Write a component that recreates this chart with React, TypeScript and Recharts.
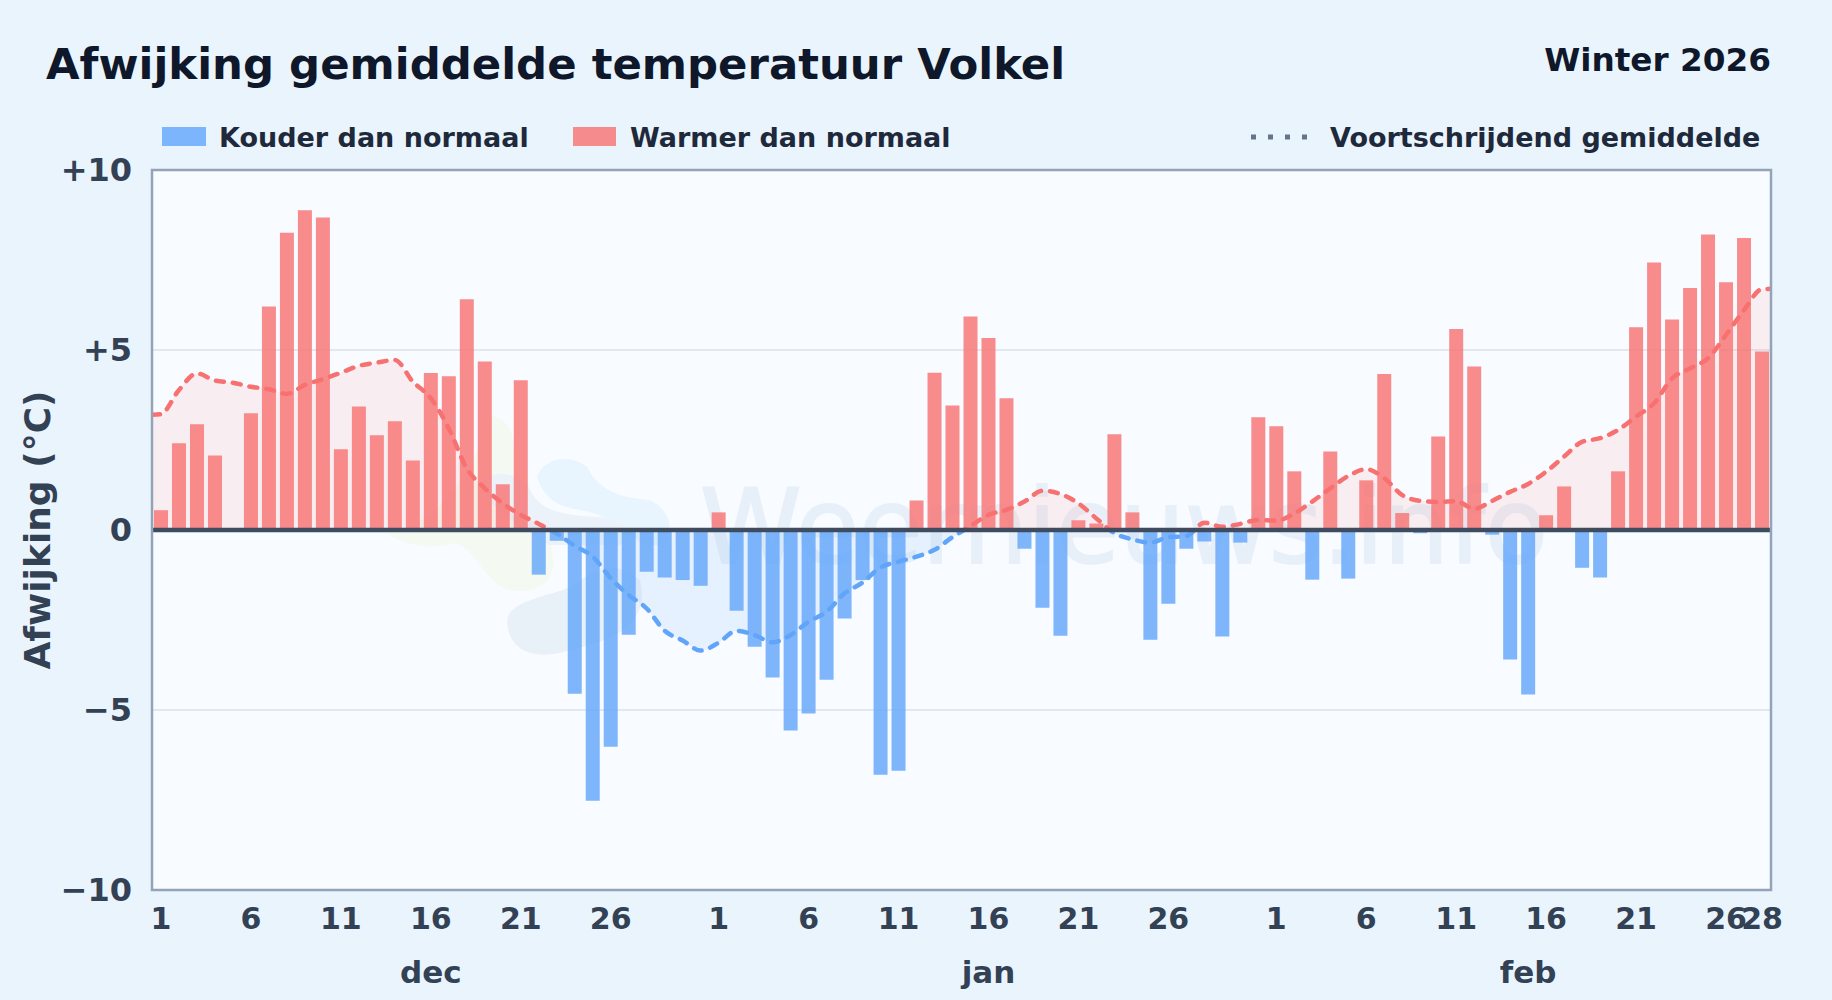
import React from "react";
import { ComposedChart, Bar, Area, XAxis, YAxis, CartesianGrid, ReferenceLine } from "recharts";

const FONT = "'DejaVu Sans', sans-serif";

// Daily anomaly in deg C, 1 Dec .. 28 Feb
const decValues = [0.55, 2.41, 2.94, 2.07, 0, 3.24, 6.21, 8.26, 8.88, 8.68, 2.24, 3.43, 2.63, 3.02, 1.93, 4.36, 4.27, 6.41, 4.68, 1.27, 4.16, -1.24, -0.3, -4.55, -7.52, -6.02, -2.91, -1.16, -1.32, -1.39, -1.55];
const janValues = [0.49, -2.24, -3.24, -4.1, -5.57, -5.1, -4.16, -2.46, -1.39, -6.8, -6.69, 0.82, 4.37, 3.46, 5.93, 5.33, 3.66, -0.52, -2.16, -2.94, 0.27, 0.18, 2.66, 0.49, -3.05, -2.05, -0.52, -0.32, -2.96, -0.35, 3.13];
const febValues = [2.88, 1.63, -1.38, 2.18, -1.35, 1.38, 4.33, 0.47, -0.09, 2.6, 5.58, 4.54, -0.13, -3.6, -4.57, 0.41, 1.21, -1.05, -1.32, 1.63, 5.63, 7.43, 5.85, 6.72, 8.21, 6.88, 8.11, 4.96];

// Rolling mean in deg C, one value per day
const rollingMean = [
  3.22, 3.89, 4.35, 4.15, 4.09, 3.98, 3.91, 3.78, 4.03, 4.19, 4.37, 4.56, 4.65, 4.72, 4.12, 3.66, 2.82, 1.71, 1.16, 0.74, 0.42, 0.17, -0.1, -0.44, -0.74, -1.34, -1.81, -2.18, -2.8, -3.07, -3.35,
  -3.13, -2.8, -2.92, -3.12, -2.92, -2.55, -2.27, -1.76, -1.46, -1.04, -0.88, -0.74, -0.55, -0.2, 0.11, 0.42, 0.56, 0.79, 1.09, 1.0, 0.74, 0.32, -0.09, -0.26, -0.35, -0.2, -0.17, 0.2, 0.09, 0.17, 0.28,
  0.26, 0.46, 0.79, 1.16, 1.5, 1.69, 1.44, 0.97, 0.81, 0.78, 0.8, 0.59, 0.81, 1.06, 1.28, 1.62, 2.04, 2.45, 2.55, 2.78, 3.15, 3.52, 4.21, 4.49, 4.77, 5.42, 6.11, 6.69,
];
const rollingStart = 3.2;
const rollingEnd = 6.7;

const xTickDays = [1, 6, 11, 16, 21, 26, 32, 37, 42, 47, 52, 57, 63, 68, 73, 78, 83, 88, 90];
const xTickLabels = ["1", "6", "11", "16", "21", "26", "1", "6", "11", "16", "21", "26", "1", "6", "11", "16", "21", "26", "28"];
const monthTickDays = [16, 47, 77];
const monthNames = ["dec", "jan", "feb"];
const yTicks = [-10, -5, 0, 5, 10];

const anomalies = [...decValues, ...janValues, ...febValues];
const barRows: any[] = anomalies.map((v, i) => ({
  day: i + 1,
  warm: v > 0 ? v : null,
  cold: v < 0 ? v : null,
}));
const meanRows: any[] = [
  { day: 0.5, rolling: rollingStart },
  ...rollingMean.map((v, i) => ({ day: i + 1, rolling: v })),
  { day: 90.5, rolling: rollingEnd },
];

const BLUE = "#60a5fa";
const RED = "#f87171";
const INK = "#334155";
const DARK = "#0f172a";

function fmtY(v: number) {
  if (v > 0) return `+${v}`;
  if (v < 0) return `\u2212${Math.abs(v)}`;
  return "0";
}

export default function App() {
  return (
    <div style={{ position: "absolute", left: 0, top: 0, width: 1832, height: 1000, overflow: "hidden", background: "#eaf4fc", fontFamily: FONT }}>
      <svg width={1832} height={1000} style={{ position: "absolute", left: 0, top: 0 }}>
        <rect x={152} y={170} width={1619} height={720} fill="#f8fbff" />
        <path d="M387 532 C400 545 430 550 453 543 C475 545 485 585 510 590 C540 595 555 580 553 557 C550 530 520 470 513 440 C510 420 495 415 490 416 C480 440 460 520 387 532 Z" fill="#f4f9f1" />
        <path d="M537 477 C543 460 567 452 587 467 C597 488 617 498 650 500 C670 510 675 530 663 543 C640 555 620 520 603 517 C580 505 550 515 537 477 Z" fill="#e8f4fe" />
        <path d="M480 483 C495 470 515 470 530 490 C540 510 560 515 597 517 C620 518 640 530 620 545 L550 545 C510 520 490 510 480 483 Z" fill="#ebf2f9" />
        <path d="M507 623 C507 605 530 600 563 590 C590 580 600 550 640 580 C650 620 620 640 570 650 C540 660 510 655 507 623 Z" fill="#e9f1f8" />
        <text x={700} y={563} fontFamily={FONT} fontWeight={400} fontSize={104} textLength={848} lengthAdjust="spacingAndGlyphs" fill="#e7f0f8" stroke="#e7f0f8" strokeWidth={2}>Weernieuws.info</text>
      </svg>

      <div style={{ position: "absolute", left: 0, top: 0 }}>
        <ComposedChart
          width={1832}
          height={1000}
          data={barRows}
          stackOffset="sign"
          margin={{ top: 170, right: 61, bottom: 0, left: 0 }}
          style={{ fontFamily: FONT }}
        >
          <defs>
            <linearGradient id="maFill" gradientUnits="userSpaceOnUse" x1="0" y1="170" x2="0" y2="890">
              <stop offset="50%" stopColor={RED} stopOpacity={0.16} />
              <stop offset="50%" stopColor={BLUE} stopOpacity={0.2} />
            </linearGradient>
            <linearGradient id="maStroke" gradientUnits="userSpaceOnUse" x1="0" y1="170" x2="0" y2="890">
              <stop offset="50%" stopColor={RED} />
              <stop offset="50%" stopColor={BLUE} />
            </linearGradient>
          </defs>
          <CartesianGrid xAxisId="days" vertical={false} stroke="#e2e8f0" strokeWidth={2} />
          <XAxis xAxisId="mean" dataKey="day" type="number" domain={[0.5, 90.5]} hide height={0} allowDataOverflow />
          <XAxis
            xAxisId="days"
            dataKey="day"
            type="number"
            domain={[0.5, 90.5]}
            ticks={xTickDays}
            interval={0}
            height={55}
            axisLine={false}
            tickLine={false}
            tickMargin={12}
            tickFormatter={(v: number) => xTickLabels[xTickDays.indexOf(v)]}
            tick={{ fill: INK, fontSize: 30, fontWeight: 700, fontFamily: FONT }}
            allowDataOverflow
          />
          <XAxis
            xAxisId="months"
            dataKey="day"
            type="number"
            domain={[0.5, 90.5]}
            ticks={monthTickDays}
            interval={0}
            height={55}
            axisLine={false}
            tickLine={false}
            tickMargin={10}
            tickFormatter={(v: number) => monthNames[monthTickDays.indexOf(v)]}
            tick={{ fill: INK, fontSize: 31, fontWeight: 700, fontFamily: FONT }}
            allowDataOverflow
          />
          <YAxis
            type="number"
            domain={[-10, 10]}
            ticks={yTicks}
            width={152}
            axisLine={false}
            tickLine={false}
            tickMargin={14}
            tickFormatter={fmtY}
            tick={{ fill: INK, fontSize: 32, fontWeight: 700, fontFamily: FONT }}
          />
          <Area
            xAxisId="mean"
            data={meanRows}
            dataKey="rolling"
            type="monotone"
            baseValue={0}
            fill="url(#maFill)"
            stroke="none"
            dot={false}
            activeDot={false}
            isAnimationActive={false}
            legendType="none"
          />
          <Bar xAxisId="days" dataKey="warm" name="Warmer dan normaal" stackId="d" barSize={14} fill={RED} fillOpacity={0.8} isAnimationActive={false} />
          <Bar xAxisId="days" dataKey="cold" name="Kouder dan normaal" stackId="d" barSize={14} fill={BLUE} fillOpacity={0.8} isAnimationActive={false} />
          <Area
            xAxisId="mean"
            data={meanRows}
            dataKey="rolling"
            name="Voortschrijdend gemiddelde"
            type="monotone"
            baseValue={0}
            fill="none"
            stroke="url(#maStroke)"
            strokeWidth={4.5}
            strokeDasharray="8 9"
            strokeLinecap="round"
            dot={false}
            activeDot={false}
            isAnimationActive={false}
          />
          <ReferenceLine xAxisId="days" y={0} stroke="#3f4c5f" strokeWidth={4.5} />
        </ComposedChart>
      </div>

      <svg width={1832} height={1000} style={{ position: "absolute", left: 0, top: 0, pointerEvents: "none" }}>
        <rect x={152} y={170} width={1619} height={720} fill="none" stroke="#94a3b8" strokeWidth={2.5} />
        <text x={46} y={79} fontFamily={FONT} fontWeight={700} fontSize={43.4} fill={DARK}>Afwijking gemiddelde temperatuur Volkel</text>
        <text x={1771} y={71} textAnchor="end" fontFamily={FONT} fontWeight={700} fontSize={32.7} fill={DARK}>Winter 2026</text>

        <rect x={162} y={127} width={44} height={19} fill={BLUE} fillOpacity={0.8} />
        <text x={219} y={147} fontFamily={FONT} fontWeight={700} fontSize={27} fill="#1e293b">Kouder dan normaal</text>
        <rect x={573} y={127} width={43} height={19} fill={RED} fillOpacity={0.8} />
        <text x={630} y={147} fontFamily={FONT} fontWeight={700} fontSize={27} fill="#1e293b">Warmer dan normaal</text>
        <line x1={1251} x2={1309} y1={137} y2={137} stroke="#64748b" strokeWidth={5} strokeDasharray="5 12" />
        <text x={1330} y={147} fontFamily={FONT} fontWeight={700} fontSize={27} fill="#1e293b">Voortschrijdend gemiddelde</text>

        <text transform="translate(50 530) rotate(-90)" textAnchor="middle" fontFamily={FONT} fontWeight={700} fontSize={36} fill={INK}>Afwijking (°C)</text>
      </svg>
    </div>
  );
}
